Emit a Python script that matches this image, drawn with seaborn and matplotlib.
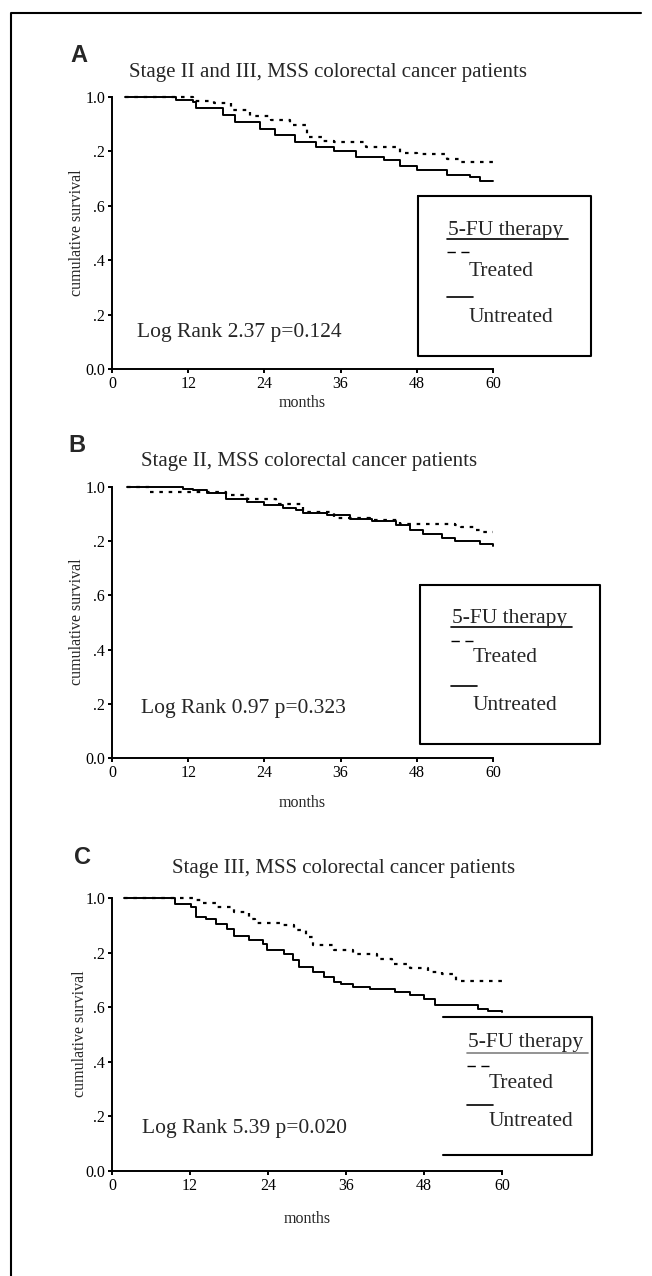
import matplotlib
matplotlib.use("Agg")
import matplotlib.pyplot as plt
from matplotlib.lines import Line2D
import seaborn as sns
import pandas as pd

# ---------------- data ----------------
panel_letters = ["A", "B", "C"]
titles = ["Stage II and III, MSS colorectal cancer patients",
          "Stage II, MSS colorectal cancer patients",
          "Stage III, MSS colorectal cancer patients"]
logrank_texts = ["Log Rank 2.37 p=0.124", "Log Rank 0.97 p=0.323", "Log Rank 5.39 p=0.020"]
x_ticks = [0, 12, 24, 36, 48, 60]
y_ticks = [0.0, 0.2, 0.4, 0.6, 0.8, 1.0]
y_tick_labels = ["0.0", ".2", ".4", ".6", ".2", "1.0"]
legend_title = "5-FU therapy"
group_labels = ["Treated", "Untreated"]

A_treated_months = [2, 12.8, 16, 18.8, 21.7, 25, 28, 30.7, 33, 35, 40, 45.4, 48, 52.7, 55, 60]
A_treated_surv = [1.0, 0.985, 0.978, 0.951, 0.929, 0.915, 0.896, 0.853, 0.84, 0.834, 0.815, 0.794, 0.79, 0.773, 0.76, 0.745]
A_untreated_months = [2, 10, 12.8, 13.2, 17.5, 19.4, 23.3, 25.7, 28.8, 32.2, 35, 38.5, 42.8, 45.4, 48, 52.7, 56.4, 58, 60]
A_untreated_surv = [1.0, 0.99, 0.98, 0.958, 0.932, 0.908, 0.883, 0.859, 0.834, 0.816, 0.801, 0.78, 0.767, 0.748, 0.73, 0.715, 0.706, 0.693, 0.69]

B_treated_months = [2.3, 5.9, 18, 21.2, 25.9, 30, 34.9, 40.6, 45.4, 54, 55, 57, 58, 60]
B_treated_surv = [1.0, 0.982, 0.969, 0.957, 0.938, 0.908, 0.887, 0.877, 0.865, 0.858, 0.852, 0.842, 0.834, 0.834]
B_untreated_months = [2.3, 11.2, 12.8, 15, 18, 21.2, 24, 27, 29, 30, 33.8, 37.5, 41, 44.8, 47, 49, 52, 54, 58, 60]
B_untreated_surv = [1.0, 0.994, 0.988, 0.978, 0.957, 0.945, 0.932, 0.924, 0.914, 0.904, 0.895, 0.883, 0.874, 0.858, 0.84, 0.825, 0.813, 0.8, 0.79, 0.784]

C_treated_months = [1.8, 12.8, 13.9, 16, 18.8, 21, 22, 25.9, 28, 29.8, 30.9, 34.2, 37, 40.8, 43, 45.8, 48.6, 50.8, 52.9, 60]
C_treated_surv = [1.0, 0.991, 0.982, 0.967, 0.949, 0.924, 0.908, 0.9, 0.881, 0.857, 0.829, 0.808, 0.794, 0.775, 0.76, 0.745, 0.729, 0.723, 0.696, 0.69]
C_untreated_months = [1.8, 9.7, 12.2, 12.9, 14.4, 16, 17.7, 18.8, 21, 23.2, 23.8, 26.5, 27.9, 28.7, 30.9, 32.6, 34.2, 35.3, 37, 39.7, 43.6, 45.8, 48, 49.7, 55.2, 56.3, 57.9, 60]
C_untreated_surv = [1.0, 0.979, 0.967, 0.93, 0.922, 0.906, 0.888, 0.86, 0.847, 0.833, 0.808, 0.794, 0.774, 0.747, 0.729, 0.711, 0.692, 0.684, 0.674, 0.666, 0.656, 0.646, 0.629, 0.607, 0.607, 0.595, 0.585, 0.582]

curves = [
    (A_treated_months, A_treated_surv, A_untreated_months, A_untreated_surv),
    (B_treated_months, B_treated_surv, B_untreated_months, B_untreated_surv),
    (C_treated_months, C_treated_surv, C_untreated_months, C_untreated_surv),
]

# ---------------- style ----------------
sns.set_style("ticks")
plt.rcParams['font.family'] = ['Liberation Serif', 'DejaVu Serif']
plt.rcParams['axes.linewidth'] = 1.4

W, H = 652, 1276
fig = plt.figure(figsize=(W / 100, H / 100), dpi=100)


def fx(x):
    return x / W


def fy(y):
    return 1 - y / H


# axes pixel boxes: (left, right, top(1.0), bottom(0.0))
axes_px = [(112, 493, 97, 369), (112, 493, 487, 758), (112, 502, 898, 1171)]
letter_pos = [(70, 56), (68, 445), (74, 857)]
title_pos = [(129, 73), (141, 462), (172, 869)]
logrank_pos = [(137, 332), (141, 708), (142, 1129)]
ylabel_pos = [(77, 233), (77, 622), (80, 1034)]
xlabel_pos = [(302, 403), (302, 803), (307, 1219)]
# legend boxes: left, right, top, bottom
legbox = [(418, 591, 196, 356), (420, 600, 585, 744), (443, 592, 1017, 1155)]
# legend element offsets: title_x, title_y, underline_y, dash_y, treated_y, solid_y, untreated_y
leg_items = [(448, 231, 239, 252, 272, 297, 318),
             (452, 619, 627, 641, 658, 686, 705),
             (468, 1043, 1053, 1066, 1083, 1105, 1122)]

for i in range(3):
    l, r, t, b = axes_px[i]
    ax = fig.add_axes([fx(l), fy(b), (r - l) / W, (b - t) / H])
    tm, ts, um, us = curves[i]
    dfT = pd.DataFrame({"months": tm, "surv": ts})
    dfU = pd.DataFrame({"months": um, "surv": us})
    sns.lineplot(data=dfT, x="months", y="surv", ax=ax, color="black",
                 drawstyle="steps-post", linestyle=(0, (1.6, 2.6)), linewidth=1.6,
                 estimator=None, clip_on=False)
    sns.lineplot(data=dfU, x="months", y="surv", ax=ax, color="black",
                 drawstyle="steps-post", linewidth=1.4, estimator=None, clip_on=False)
    ax.set_xlim(0, 60)
    ax.set_ylim(0, 1)
    ax.set_xticks(x_ticks)
    ax.set_xticklabels([str(v) for v in x_ticks])
    ax.set_yticks(y_ticks)
    ax.set_yticklabels(y_tick_labels)
    ax.tick_params(axis="both", direction="out", length=3, width=1.4,
                   labelsize=11.5, pad=2, colors="black")
    ax.set_xlabel("")
    ax.set_ylabel("")
    sns.despine(ax=ax)
    for sp in ["left", "bottom"]:
        ax.spines[sp].set_color("black")
        ax.spines[sp].set_linewidth(1.4)

    # texts
    lx, ly = letter_pos[i]
    fig.text(fx(lx), fy(ly), panel_letters[i], fontsize=17, fontweight="bold",
             family="Liberation Sans", ha="left", va="center")
    tx, ty = title_pos[i]
    fig.text(fx(tx), fy(ty), titles[i], fontsize=15, ha="left", va="center")
    gx, gy = logrank_pos[i]
    fig.text(fx(gx), fy(gy), logrank_texts[i], fontsize=15.5, ha="left", va="center")
    yx, yy = ylabel_pos[i]
    fig.text(fx(yx), fy(yy), "cumulative survival", fontsize=11.5, rotation=90,
             ha="center", va="center")
    mx, my = xlabel_pos[i]
    fig.text(fx(mx), fy(my), "months", fontsize=11.5, ha="center", va="center")

    # legend box
    bl, br, bt, bb = legbox[i]
    if i < 2:
        fig.add_artist(Line2D([fx(bl), fx(br), fx(br), fx(bl), fx(bl)],
                              [fy(bt), fy(bt), fy(bb), fy(bb), fy(bt)],
                              color="black", lw=1.5, transform=fig.transFigure))
    else:
        fig.add_artist(Line2D([fx(bl), fx(br), fx(br), fx(bl)],
                              [fy(bt), fy(bt), fy(bb), fy(bb)],
                              color="black", lw=1.5, transform=fig.transFigure))
    ix, tty, uly, dy, try_, sy, uty = leg_items[i]
    t_obj = fig.text(fx(ix), fy(tty), legend_title, fontsize=15.5, ha="left", va="center")
    fig.add_artist(Line2D([fx(ix - 1), fx(ix + 120)], [fy(uly), fy(uly)],
                          color="black" if i < 2 else "gray", lw=1.2,
                          transform=fig.transFigure))
    fig.add_artist(Line2D([fx(ix - 1), fx(ix + 21)], [fy(dy), fy(dy)], color="black",
                          lw=1.0, linestyle=(0, (6, 4)), transform=fig.transFigure))
    fig.text(fx(ix + 21), fy(try_), group_labels[0], fontsize=15.5, ha="left", va="center")
    fig.add_artist(Line2D([fx(ix - 1), fx(ix + 25)], [fy(sy), fy(sy)], color="black",
                          lw=1.2, transform=fig.transFigure))
    fig.text(fx(ix + 21), fy(uty), group_labels[1], fontsize=15.5, ha="left", va="center")

# outer frame (left and top)
fig.add_artist(Line2D([fx(11), fx(11), fx(641)], [fy(1276), fy(13), fy(13)],
                      color="black", lw=1.5, transform=fig.transFigure))

fig.savefig("out.png", dpi=100)
